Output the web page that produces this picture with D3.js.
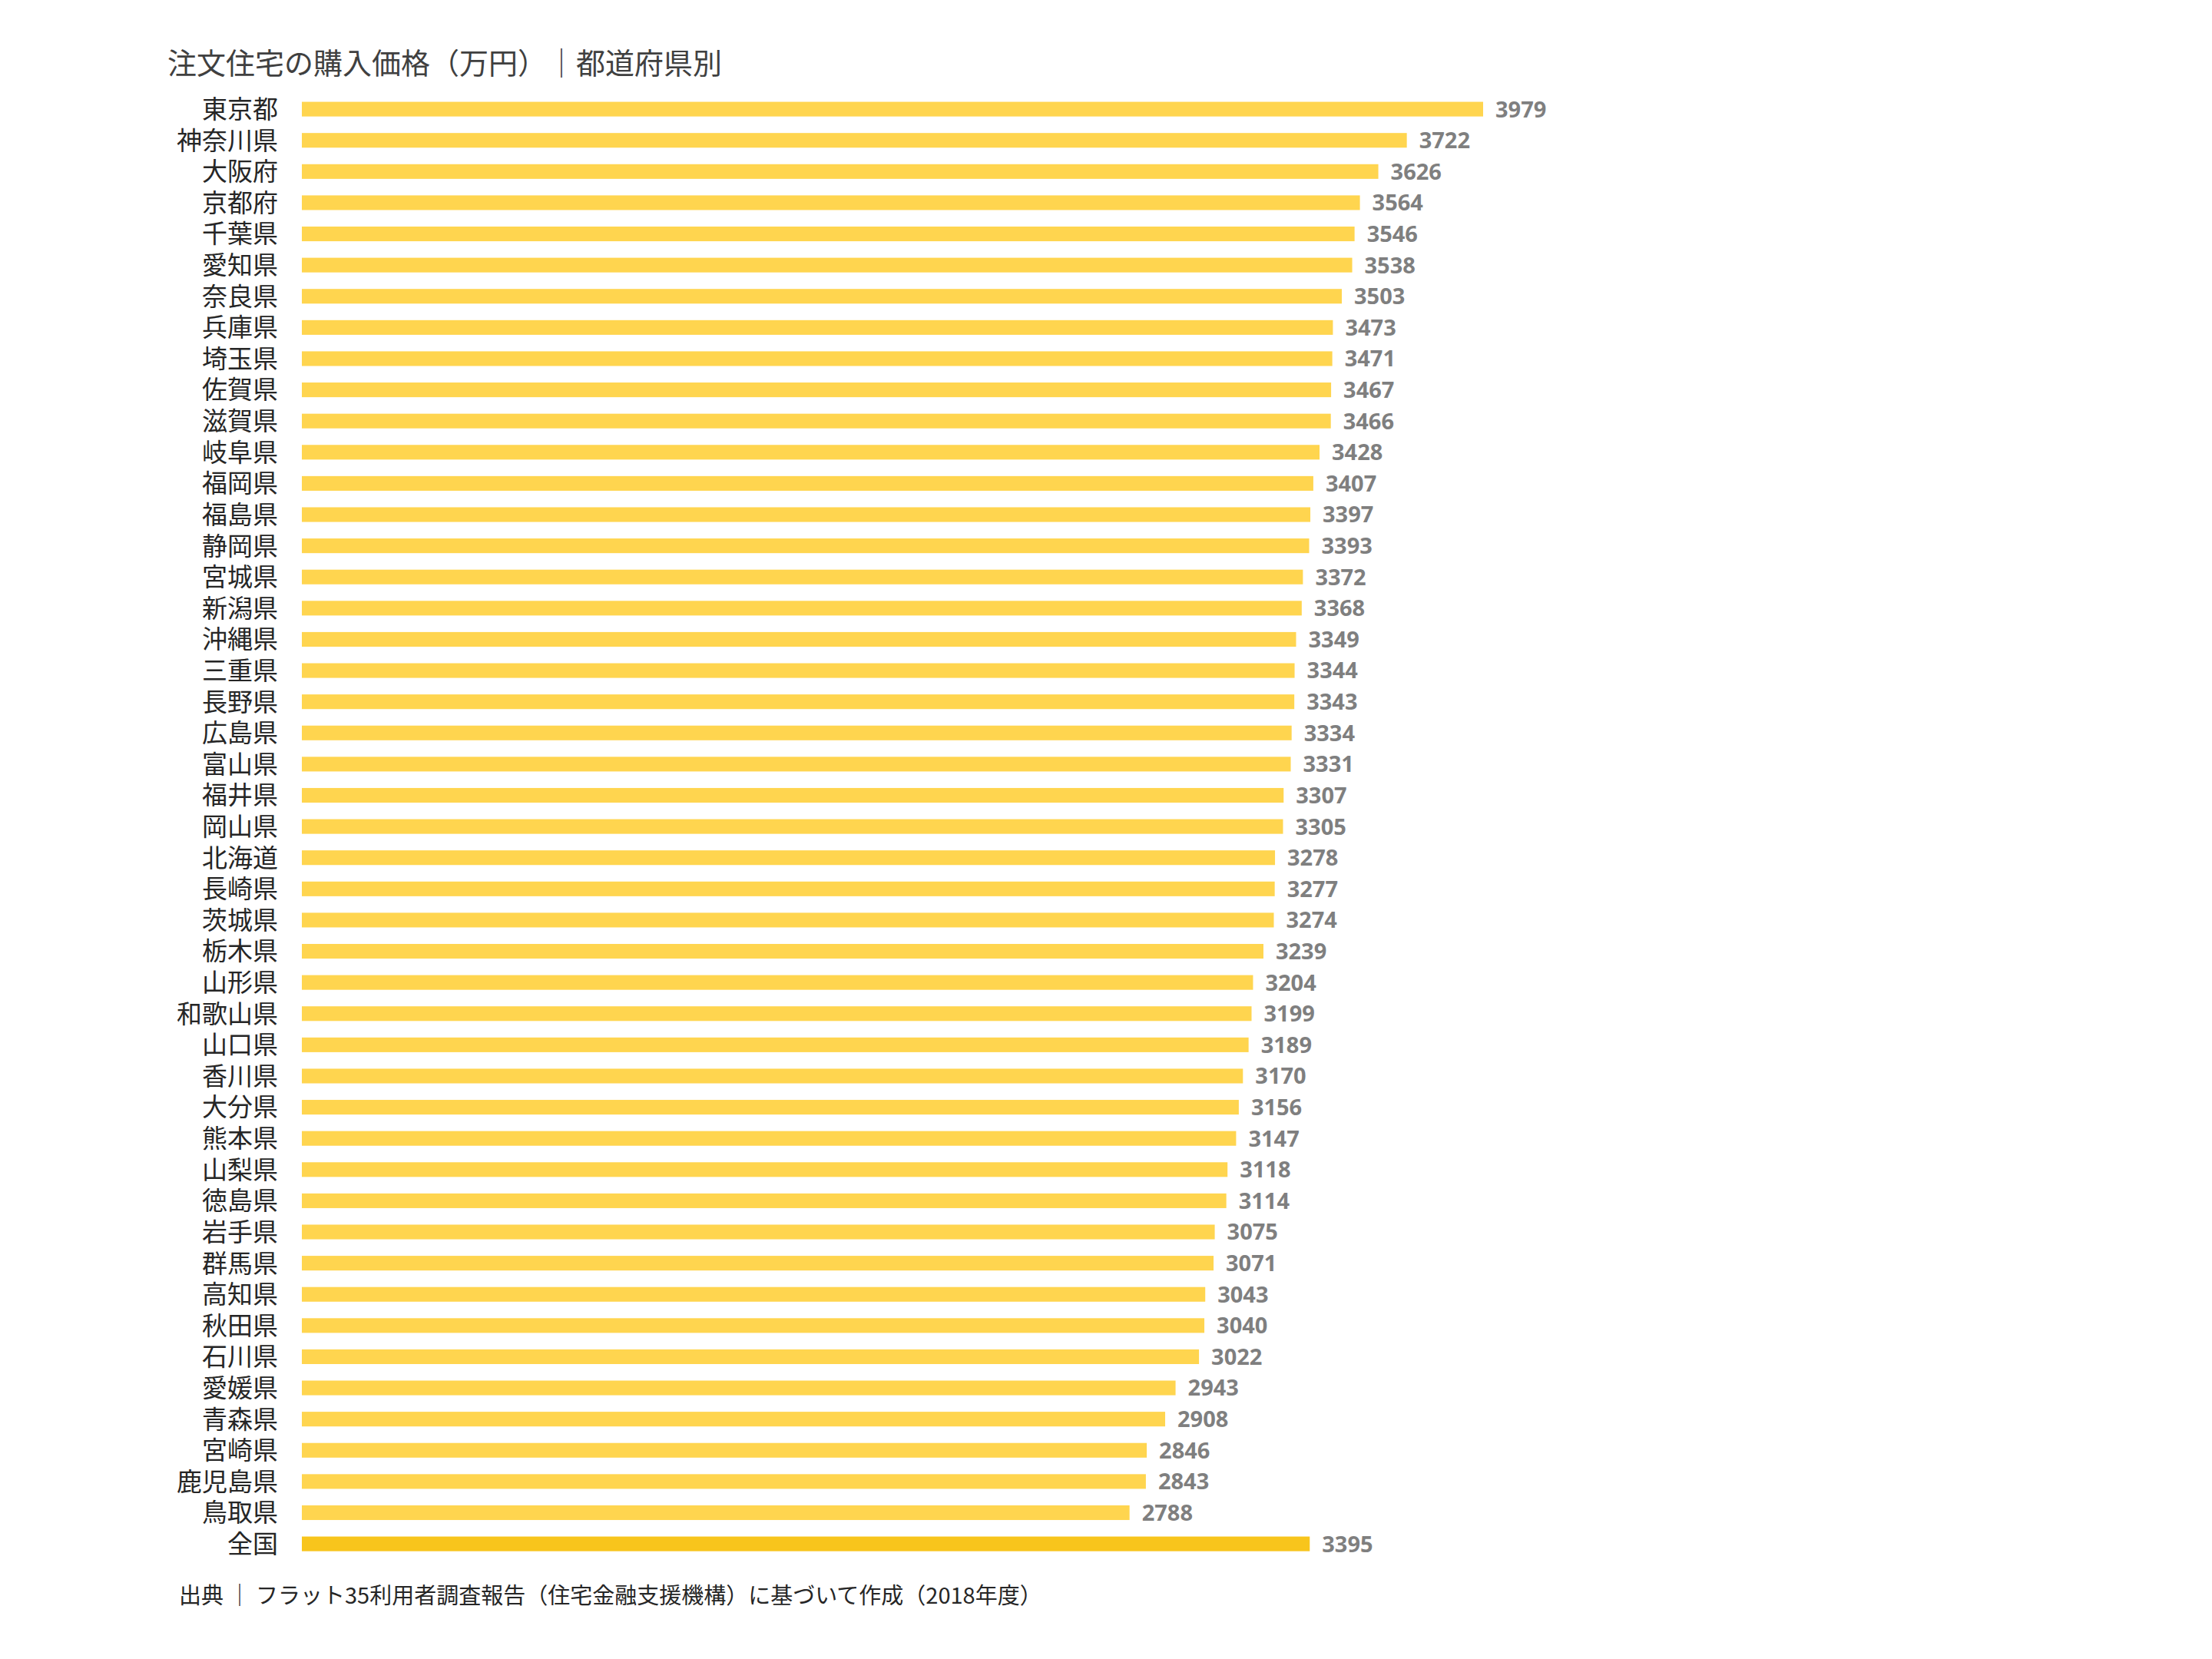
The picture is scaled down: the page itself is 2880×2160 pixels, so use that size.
<!DOCTYPE html>
<html><head><meta charset="utf-8">
<script src="https://cdn.jsdelivr.net/npm/d3@7.9.0/dist/d3.min.js"></script>
<style>
body{margin:0;background:#fff;}
svg{font-family:"Noto Sans CJK JP","Noto Sans",sans-serif;}
</style></head>
<body><svg id="chart" width="2880" height="2160"></svg>
<script>
const prefectures = ["東京都","神奈川県","大阪府","京都府","千葉県","愛知県","奈良県","兵庫県","埼玉県","佐賀県","滋賀県","岐阜県","福岡県","福島県","静岡県","宮城県","新潟県","沖縄県","三重県","長野県","広島県","富山県","福井県","岡山県","北海道","長崎県","茨城県","栃木県","山形県","和歌山県","山口県","香川県","大分県","熊本県","山梨県","徳島県","岩手県","群馬県","高知県","秋田県","石川県","愛媛県","青森県","宮崎県","鹿児島県","鳥取県","全国"];
const prices = [3979,3722,3626,3564,3546,3538,3503,3473,3471,3467,3466,3428,3407,3397,3393,3372,3368,3349,3344,3343,3334,3331,3307,3305,3278,3277,3274,3239,3204,3199,3189,3170,3156,3147,3118,3114,3075,3071,3043,3040,3022,2943,2908,2846,2843,2788,3395];
const titleText = "注文住宅の購入価格（万円）｜都道府県別";
const sourceText = "出典 ｜ フラット35利用者調査報告（住宅金融支援機構）に基づいて作成（2018年度）";

const data = prefectures.map((p, i) => ({ name: p, value: prices[i] }));
const svg = d3.select('#chart');

// layout
const marginLeft = 393, marginTop = 122, rowStep = 40.6;
const x = d3.scaleLinear().domain([0, 3979]).range([0, 1538]);
const y = d3.scaleBand().domain(prefectures)
    .range([marginTop, marginTop + rowStep * prefectures.length])
    .paddingInner(0.53).paddingOuter(0.26);

svg.append('text')
    .attr('x', 218).attr('y', 96)
    .attr('font-size', 38).attr('fill', '#404040')
    .text(titleText);

const rows = svg.append('g').selectAll('g').data(data).join('g');

rows.append('rect')
    .attr('x', marginLeft)
    .attr('y', d => y(d.name))
    .attr('width', d => x(d.value))
    .attr('height', y.bandwidth())
    .attr('fill', d => d.name === '全国' ? '#F8C51C' : '#FFD54F');

rows.append('text')
    .attr('x', 362)
    .attr('y', d => y(d.name) + y.bandwidth() / 2)
    .attr('dy', '0.36em')
    .attr('text-anchor', 'end')
    .attr('font-size', 33).attr('fill', '#262626')
    .text(d => d.name);

rows.append('text')
    .attr('x', d => marginLeft + x(d.value) + 16)
    .attr('y', d => y(d.name) + y.bandwidth() / 2)
    .attr('dy', '0.36em')
    .attr('font-family', 'Open Sans, sans-serif')
    .attr('font-weight', 'bold')
    .attr('font-size', 29).attr('fill', '#7f7f7f')
    .text(d => d.value);

svg.append('text')
    .attr('x', 233).attr('y', 2088)
    .attr('font-size', 29).attr('fill', '#262626')
    .text(sourceText);
</script></body></html>
